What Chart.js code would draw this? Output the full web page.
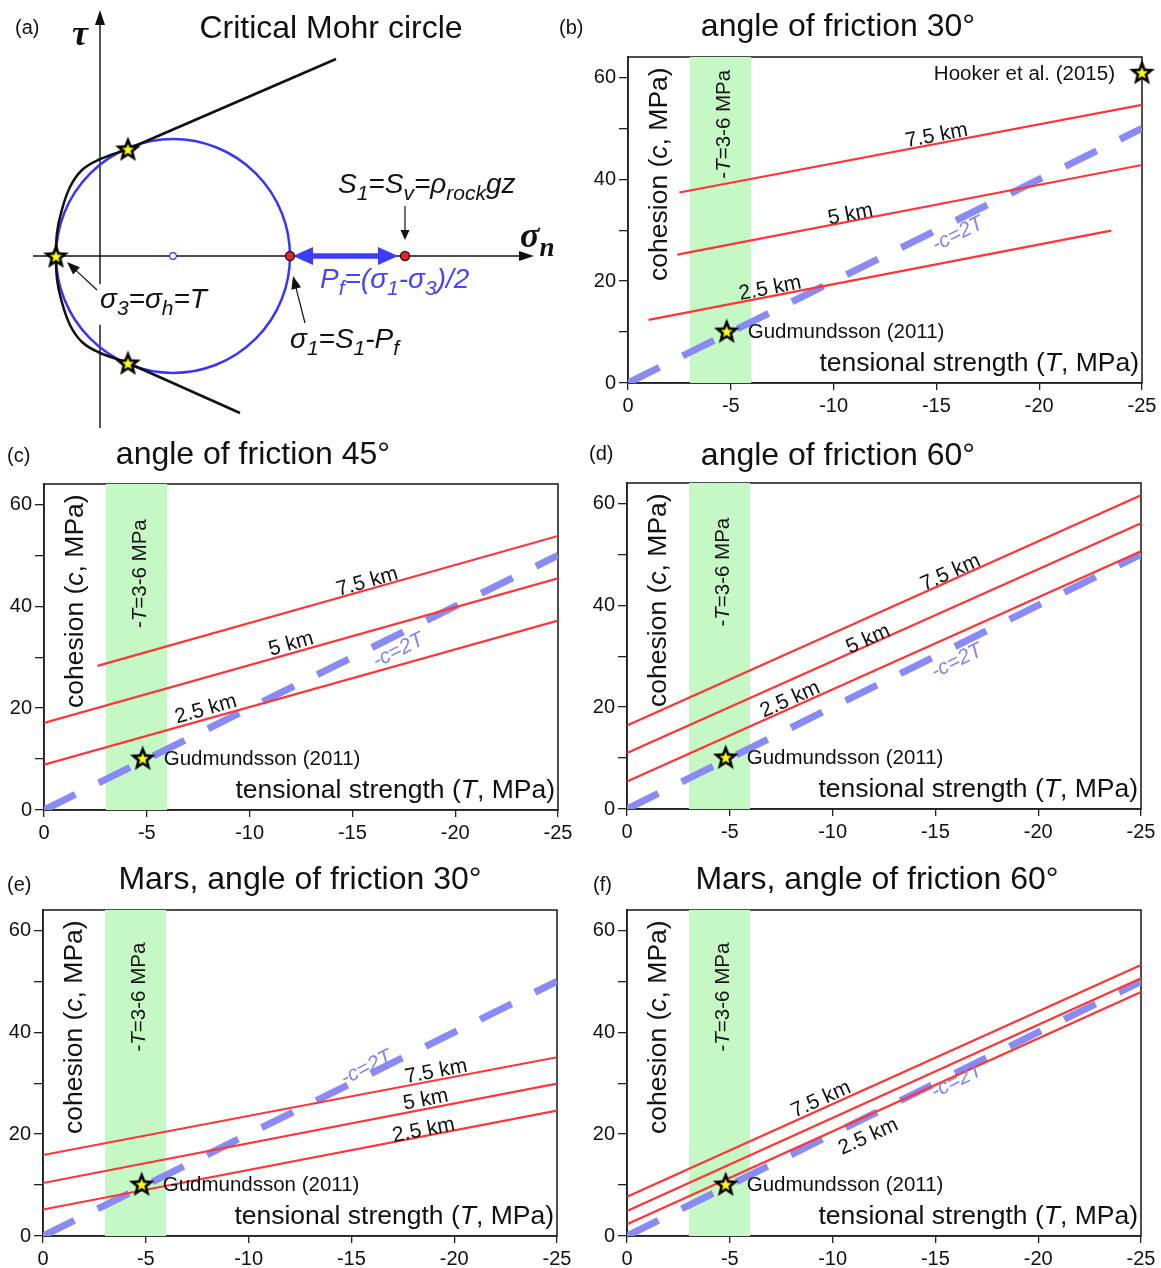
<!DOCTYPE html>
<html><head><meta charset="utf-8">
<script src="https://cdn.jsdelivr.net/npm/chart.js@4.4.1/dist/chart.umd.min.js"></script>
<style>
html,body{margin:0;padding:0;background:#fff;}
#wrap{position:relative;width:1161px;height:1268px;overflow:hidden;background:#fff;}
canvas{position:absolute;}
</style></head><body><div id="wrap"></div>
<script>
// ================= DATA =================
// shared axes / ticks
const xTicks = [0, -5, -10, -15, -20, -25];
const xTickLabels = ['0', '-5', '-10', '-15', '-20', '-25'];
const yTicks = [0, 10, 20, 30, 40, 50, 60];
const yTickLabels = ['0', '', '20', '', '40', '', '60'];
const xRange = [-25, 0];
const yRange = [0, 64];
const depthNames = ['2.5 km', '5 km', '7.5 km'];
const bandT = [-3, -6];                 // -T = 3-6 MPa
const cLineT = [0, -25];                // -c = 2T
const cLineC = [0, 50];
const gudmundsson = [-4.8, 10.2];
const hooker = [-25, 61];

// (b) angle of friction 30°
const b_T25 = [-1.0, -23.5], b_C25 = [12.4, 29.9];
const b_T50 = [-2.4, -25],   b_C50 = [25.2, 42.8];
const b_T75 = [-2.5, -25],   b_C75 = [37.4, 54.6];
// (c) angle of friction 45°
const c_T25 = [0, -25],    c_C25 = [8.9, 37.2];
const c_T50 = [0, -25],    c_C50 = [17.1, 45.5];
const c_T75 = [-2.6, -25], c_C75 = [28.3, 53.8];
// (d) angle of friction 60°
const d_T = [0, -25];
const d_C25 = [5.4, 50.6], d_C50 = [11.0, 56.1], d_C75 = [16.4, 61.6];
// (e) Mars, angle of friction 30°
const e_T = [0, -25];
const e_C25 = [5.2, 24.6], e_C50 = [10.4, 29.9], e_C75 = [15.9, 35.1];
// (f) Mars, angle of friction 60°
const f_T = [0, -25];
const f_C25 = [2.3, 47.9], f_C50 = [4.9, 50.6], f_C75 = [7.7, 53.2];

// (a) Critical Mohr circle (schematic units)
const mohrCenter = [7.3, 0];
const mohrRadius = 11.7;
const sigma1 = 19.0, sigma3 = -4.4, S1 = 30.5;
const coulombUpperX = [2.8, 23.6], coulombUpperY = [10.7, 19.7];
const coulombLowerX = [2.8, 14.0], coulombLowerY = [-10.7, -15.7];
const griffithX = [2.8, -0.2, -1.8, -3.0, -3.9, -4.3, -4.4, -4.3, -3.9, -3.0, -1.8, -0.2, 2.8];
const griffithY = [10.7, 9.6, 8.6, 6.9, 4.3, 2.3, 0, -2.3, -4.3, -6.9, -8.6, -9.6, -10.7];
const mohrStarX = [2.8, -4.4, 2.8], mohrStarY = [10.7, 0, -10.7];
const tauAxisY = [-17.2, 24.6], sigmaAxisX = [-6.7, 43.4];
const pfArrowX = [19.3, 29.8];

// ================= STYLE =================
const FAM = "'Liberation Sans', Arial, Helvetica, sans-serif";
const SERIF = "'Liberation Serif', 'DejaVu Serif', serif";
const TXT = '#111';
const RED = '#ff3535';
const DASH = 'rgba(138,138,244,1)';
const DASH_TXT = '#8585ee';
const BAND = '#c6f8c6';
const BLUE = '#3737f2';
const BOX_W = 514, BOX_H = 326;
Chart.defaults.font.family = FAM;

function fnt(s, size) {
  const z = s.sub ? size * 0.75 : size;
  return (s.it ? 'italic ' : '') + (s.b ? 'bold ' : '') + z.toFixed(1) + 'px ' + (s.fam || FAM);
}
function drawRich(ctx, segs, x, y, o) {
  const size = o.size;
  ctx.save();
  ctx.translate(x, y);
  if (o.rot) ctx.rotate(o.rot);
  let w = 0;
  for (const s of segs) { ctx.font = fnt(s, size); w += ctx.measureText(s.t).width; }
  let x0 = o.align === 'center' ? -w / 2 : (o.align === 'right' ? -w : 0);
  const yb = o.baseline === 'middle' ? size * 0.36 : 0;
  if (o.bg) { ctx.fillStyle = o.bg; ctx.fillRect(x0 - 4, yb - size * 0.85, w + 8, size * 1.45); }
  ctx.textAlign = 'left'; ctx.textBaseline = 'alphabetic';
  for (const s of segs) {
    ctx.font = fnt(s, size);
    ctx.fillStyle = s.color || o.color || TXT;
    ctx.fillText(s.t, x0, yb + (s.sub ? size * 0.25 : 0));
    x0 += ctx.measureText(s.t).width;
  }
  ctx.restore();
}
function arrowHead(ctx, x1, y1, x2, y2, L, W) {
  const a = Math.atan2(y2 - y1, x2 - x1), c = Math.cos(a), s = Math.sin(a);
  ctx.beginPath();
  ctx.moveTo(x2, y2);
  ctx.lineTo(x2 - L * c + W / 2 * s, y2 - L * s - W / 2 * c);
  ctx.lineTo(x2 - L * c - W / 2 * s, y2 - L * s + W / 2 * c);
  ctx.closePath(); ctx.fill();
}
function arrow(ctx, x1, y1, x2, y2, o) {
  const a = Math.atan2(y2 - y1, x2 - x1);
  ctx.save();
  ctx.strokeStyle = ctx.fillStyle = o.color; ctx.lineWidth = o.lw;
  const sx = o.both ? x1 + o.head * 0.8 * Math.cos(a) : x1, sy = o.both ? y1 + o.head * 0.8 * Math.sin(a) : y1;
  ctx.beginPath(); ctx.moveTo(sx, sy);
  ctx.lineTo(x2 - o.head * 0.8 * Math.cos(a), y2 - o.head * 0.8 * Math.sin(a)); ctx.stroke();
  arrowHead(ctx, x1, y1, x2, y2, o.head, o.hw);
  if (o.both) arrowHead(ctx, x2, y2, x1, y1, o.head, o.hw);
  ctx.restore();
}
function makeStar(R) {
  const c = document.createElement('canvas');
  const s = Math.ceil(2 * R + 4); c.width = c.height = s;
  const g = c.getContext('2d');
  g.translate(s / 2, s / 2 + 1);
  const path = (Ro, Ri) => {
    g.beginPath();
    for (let k = 0; k < 10; k++) {
      const a = -Math.PI / 2 + k * Math.PI / 5, r = k % 2 ? Ri : Ro;
      g.lineTo(r * Math.cos(a), r * Math.sin(a));
    }
    g.closePath();
  };
  path(R, R * 0.43); g.fillStyle = '#000'; g.fill();
  path(R * 0.47, R * 0.2); g.fillStyle = '#ffff10'; g.fill();
  return c;
}
const STAR = makeStar(13.5);

function mkCanvas(cell) {
  const c = document.createElement('canvas');
  c.width = cell[2]; c.height = cell[3];
  c.style.left = cell[0] + 'px'; c.style.top = cell[1] + 'px';
  c.style.width = cell[2] + 'px'; c.style.height = cell[3] + 'px';
  document.getElementById('wrap').appendChild(c);
  return c;
}
const pts = (xs, ys) => xs.map((v, i) => ({ x: v, y: ys[i] }));

// ================= PANELS b-f =================
const panels = [
  { letter: '(b)', title: 'angle of friction 30°', cell: [557, 0, 604, 428], box: [628, 57],
    letterPos: [559, 27], titlePos: [838, 24], bandTextY: 50.8, hooker: true,
    lines: [{ T: b_T25, C: b_C25 }, { T: b_T50, C: b_C50 }, { T: b_T75, C: b_C75 }],
    labels: [{ line: 2, x: -15.0, y: 48.9 }, { line: 1, x: -10.8, y: 33.4 }, { line: 0, x: -6.9, y: 18.9 }, { line: 'c', x: -16.0, y: 29.5 }] },
  { letter: '(c)', title: 'angle of friction 45°', cell: [0, 428, 580, 422], box: [44, 484],
    letterPos: [7, 455], titlePos: [253, 452], bandTextY: 46.4,
    lines: [{ T: c_T25, C: c_C25 }, { T: c_T50, C: c_C50 }, { T: c_T75, C: c_C75 }],
    labels: [{ line: 2, x: -15.7, y: 45.1 }, { line: 1, x: -12.0, y: 32.9 }, { line: 0, x: -7.85, y: 20.1 }, { line: 'c', x: -17.2, y: 31.6 }] },
  { letter: '(d)', title: 'angle of friction 60°', cell: [580, 428, 581, 422], box: [627, 483],
    letterPos: [589, 453], titlePos: [838, 453], bandTextY: 46.5,
    lines: [{ T: d_T, C: d_C25 }, { T: d_T, C: d_C50 }, { T: d_T, C: d_C75 }],
    labels: [{ line: 2, x: -15.7, y: 46.7 }, { line: 1, x: -11.7, y: 33.6 }, { line: 0, x: -7.9, y: 21.8 }, { line: 'c', x: -16.0, y: 29.3 }] },
  { letter: '(e)', title: 'Mars, angle of friction 30°', cell: [0, 850, 580, 418], box: [43, 910],
    letterPos: [7, 884], titlePos: [300, 877], bandTextY: 46.9,
    lines: [{ T: e_T, C: e_C25 }, { T: e_T, C: e_C50 }, { T: e_T, C: e_C75 }],
    labels: [{ line: 2, x: -19.1, y: 32.6 }, { line: 1, x: -18.6, y: 27.1 }, { line: 0, x: -18.5, y: 21.1 }, { line: 'c', x: -15.7, y: 33.3 }] },
  { letter: '(f)', title: 'Mars, angle of friction 60°', cell: [580, 850, 581, 418], box: [627, 910],
    letterPos: [593, 884], titlePos: [877, 877], bandTextY: 46.9,
    lines: [{ T: f_T, C: f_C25 }, { T: f_T, C: f_C50 }, { T: f_T, C: f_C75 }],
    labels: [{ line: 2, x: -9.4, y: 27.1 }, { line: 0, x: -11.7, y: 19.8 }, { line: 'c', x: -16.0, y: 30.7 }] }
];

const Y_TITLE = [{ t: 'cohesion (' }, { t: 'c', it: true }, { t: ', MPa)' }];
const X_TITLE = [{ t: 'tensional strength (' }, { t: 'T', it: true }, { t: ', MPa)' }];
const BAND_TITLE = [{ t: '-' }, { t: 'T', it: true }, { t: '=3-6 MPa' }];

function panelPlugin(P) {
  return {
    id: 'annot',
    beforeDatasetsDraw(chart) {
      const { ctx, chartArea: ca } = chart;
      ctx.save();
      ctx.strokeStyle = '#222'; ctx.lineWidth = 1.6;
      ctx.strokeRect(ca.left, ca.top, ca.right - ca.left, ca.bottom - ca.top);
      ctx.restore();
    },
    afterDatasetsDraw(chart) {
      const { ctx, chartArea: ca } = chart;
      const sx = chart.scales.x, sy = chart.scales.y;
      const X = v => sx.getPixelForValue(v), Y = v => sy.getPixelForValue(v);
      drawRich(ctx, [{ t: P.letter }], P.letterPos[0] - P.cell[0], P.letterPos[1] - P.cell[1], { size: 20, baseline: 'middle' });
      drawRich(ctx, [{ t: P.title }], P.titlePos[0] - P.cell[0], P.titlePos[1] - P.cell[1], { size: 32, align: 'center', baseline: 'middle' });
      drawRich(ctx, Y_TITLE, ca.left + 29, Y(41), { size: 26.5, align: 'center', baseline: 'middle', rot: -Math.PI / 2 });
      drawRich(ctx, X_TITLE, ca.right - 3, ca.bottom - 12, { size: 26.5, align: 'right' });
      drawRich(ctx, BAND_TITLE, X((bandT[0] + bandT[1]) / 2 - 0.1), Y(P.bandTextY), { size: 20.5, align: 'center', baseline: 'middle', rot: -Math.PI / 2 });
      P.labels.forEach(lb => {
        const L = lb.line === 'c' ? { T: cLineT, C: cLineC } : P.lines[lb.line];
        const ang = Math.atan2(Y(L.C[1]) - Y(L.C[0]), X(L.T[1]) - X(L.T[0]));
        const segs = lb.line === 'c' ? [{ t: '-c=2T', it: true }] : [{ t: depthNames[lb.line] }];
        drawRich(ctx, segs, X(lb.x), Y(lb.y), { size: 21, align: 'center', baseline: 'middle', rot: ang, color: lb.line === 'c' ? DASH_TXT : TXT });
      });
      drawRich(ctx, [{ t: 'Gudmundsson (2011)' }], X(gudmundsson[0]) + 21, Y(gudmundsson[1]), { size: 20.5, baseline: 'middle' });
      if (P.hooker) drawRich(ctx, [{ t: 'Hooker et al. (2015)' }], X(hooker[0]) - 27, Y(hooker[1]), { size: 20.5, align: 'right', baseline: 'middle' });
    }
  };
}

function buildPanel(P) {
  const canvas = mkCanvas(P.cell);
  const yW = P.box[0] - P.cell[0];
  const padTop = P.box[1] - P.cell[1];
  const padRight = P.cell[2] - yW - BOX_W;
  const xH = P.cell[3] - padTop - BOX_H;
  const ds = [];
  ds.push({ data: pts(bandT, [yRange[1], yRange[1]]), showLine: true, fill: 'origin', backgroundColor: BAND,
            borderColor: 'rgba(0,0,0,0)', borderWidth: 0, pointRadius: 0, order: 5 });
  ds.push({ data: pts(cLineT, cLineC), showLine: true, borderColor: DASH, borderWidth: 7, borderDash: [35, 26],
            borderCapStyle: 'butt', pointRadius: 0, order: 4, fill: false });
  P.lines.forEach(L => ds.push({ data: pts(L.T, L.C), showLine: true, borderColor: RED, borderWidth: 2.2,
            pointRadius: 0, order: 3, fill: false }));
  ds.push({ data: pts([gudmundsson[0]], [gudmundsson[1]]), pointStyle: STAR, pointRadius: 13, order: 1, clip: false });
  if (P.hooker) ds.push({ data: pts([hooker[0]], [hooker[1]]), pointStyle: STAR, pointRadius: 13, order: 1, clip: false });
  new Chart(canvas, {
    type: 'scatter',
    data: { datasets: ds },
    options: {
      responsive: false, animation: false, events: [], devicePixelRatio: 1,
      layout: { autoPadding: false, padding: { left: 0, top: padTop, right: padRight, bottom: 0 } },
      plugins: { legend: { display: false }, tooltip: { enabled: false }, title: { display: false } },
      scales: {
        x: {
          type: 'linear', min: xRange[0], max: xRange[1], reverse: true,
          afterFit: s => { s.height = xH; },
          afterBuildTicks: s => { s.ticks = [...xTicks].sort((a, b) => a - b).map(v => ({ value: v })); },
          ticks: { autoSkip: false, maxRotation: 0, padding: 4, color: TXT, font: { size: 20, family: FAM },
                   callback: v => xTickLabels[xTicks.indexOf(Math.round(v))] },
          grid: { drawOnChartArea: false, drawTicks: true, tickLength: 7, color: '#222', lineWidth: 1.3 },
          border: { display: true, color: '#222', width: 1.6 }
        },
        y: {
          type: 'linear', min: yRange[0], max: yRange[1],
          afterFit: s => { s.width = yW; },
          afterBuildTicks: s => { s.ticks = yTicks.map(v => ({ value: v })); },
          ticks: { autoSkip: false, padding: 3, color: TXT, font: { size: 20, family: FAM },
                   callback: v => yTickLabels[yTicks.indexOf(Math.round(v))] },
          grid: { drawOnChartArea: false, drawTicks: true, tickLength: 9, color: '#222', lineWidth: 1.3 },
          border: { display: true, color: '#222', width: 1.6 }
        }
      }
    },
    plugins: [panelPlugin(P)]
  });
}
panels.forEach(buildPanel);

// ================= PANEL a =================
(function buildMohr() {
  const cell = [0, 0, 557, 428];
  const canvas = mkCanvas(cell);
  // 10 px per unit, origin at pixel (100, 256)
  const xr = [-10, (cell[2] - 100) / 10], yr = [(256 - cell[3]) / 10, 25.6];
  const circleR = ctx => {
    const s = ctx.chart.scales.x;
    return Math.abs(s.getPixelForValue(mohrCenter[0] + mohrRadius) - s.getPixelForValue(mohrCenter[0]));
  };
  const ds = [
    { data: pts([mohrCenter[0]], [mohrCenter[1]]), pointRadius: circleR, pointBorderColor: BLUE,
      pointBackgroundColor: 'rgba(0,0,0,0)', pointBorderWidth: 2.5, clip: false, order: 6 },
    { data: pts([mohrCenter[0]], [mohrCenter[1]]), pointRadius: 3.3, pointBorderColor: BLUE,
      pointBackgroundColor: '#fff', pointBorderWidth: 1.2, clip: false, order: 5 },
    { data: pts(griffithX, griffithY), showLine: true, tension: 0.4, borderColor: '#111', borderWidth: 2.5,
      pointRadius: 0, clip: false, order: 4 },
    { data: pts(coulombUpperX, coulombUpperY), showLine: true, borderColor: '#111', borderWidth: 2.5, pointRadius: 0, clip: false, order: 4 },
    { data: pts(coulombLowerX, coulombLowerY), showLine: true, borderColor: '#111', borderWidth: 2.5, pointRadius: 0, clip: false, order: 4 },
    { data: pts([sigma1, S1], [0, 0]), pointRadius: 4.5, pointBackgroundColor: '#ee2020', pointBorderColor: '#222',
      pointBorderWidth: 1.5, clip: false, order: 2 },
    { data: pts(mohrStarX, mohrStarY), pointStyle: STAR, pointRadius: 13, clip: false, order: 1 }
  ];
  const plug = {
    id: 'mohr',
    beforeDatasetsDraw(chart) {
      const ctx = chart.ctx, X = v => chart.scales.x.getPixelForValue(v), Y = v => chart.scales.y.getPixelForValue(v);
      arrow(ctx, X(0), Y(tauAxisY[0]), X(0), Y(tauAxisY[1]), { color: '#111', lw: 1.4, head: 15, hw: 10 });
      arrow(ctx, X(sigmaAxisX[0]), Y(0), X(sigmaAxisX[1]), Y(0), { color: '#111', lw: 1.4, head: 15, hw: 10 });
      arrow(ctx, X(pfArrowX[0]), Y(0), X(pfArrowX[1]), Y(0), { color: '#3d3dff', lw: 5.5, head: 20, hw: 18, both: true });
    },
    afterDatasetsDraw(chart) {
      const ctx = chart.ctx, X = v => chart.scales.x.getPixelForValue(v), Y = v => chart.scales.y.getPixelForValue(v);
      drawRich(ctx, [{ t: '(a)' }], 15, 27, { size: 20, baseline: 'middle' });
      drawRich(ctx, [{ t: 'Critical Mohr circle' }], 331, 26, { size: 32, align: 'center', baseline: 'middle' });
      drawRich(ctx, [{ t: 'τ', it: true, b: true, fam: SERIF }], X(-2.8), Y(21.1), { size: 36 });
      drawRich(ctx, [{ t: 'σ', it: true, b: true, fam: SERIF }, { t: 'n', it: true, b: true, fam: SERIF, sub: true }], X(42.0), Y(0.9), { size: 36 });
      // pointer arrows
      arrow(ctx, X(S1), Y(5.0), X(S1), Y(1.6), { color: '#111', lw: 1.2, head: 10, hw: 9 });
      drawRich(ctx, [{ t: 'S', it: true }, { t: '1', it: true, sub: true }, { t: '=S', it: true }, { t: 'v', it: true, sub: true },
        { t: '=ρ', it: true }, { t: 'rock', it: true, sub: true }, { t: 'gz', it: true }], X(23.8), Y(6.3), { size: 28 });
      drawRich(ctx, [{ t: 'P', it: true }, { t: 'f', it: true, sub: true }, { t: '=(σ', it: true }, { t: '1', it: true, sub: true },
        { t: '-σ', it: true }, { t: '3', it: true, sub: true }, { t: ')/2', it: true }], X(22.0), Y(-3.2), { size: 28, color: '#4646f0' });
      drawRich(ctx, [{ t: 'σ', it: true }, { t: '3', it: true, sub: true }, { t: '=σ', it: true }, { t: 'h', it: true, sub: true },
        { t: '=T', it: true }], X(0.0), Y(-5.2), { size: 28, bg: '#fff' });
      arrow(ctx, X(-0.3), Y(-3.4), X(-3.3), Y(-0.6), { color: '#111', lw: 1.2, head: 13, hw: 10 });
      drawRich(ctx, [{ t: 'σ', it: true }, { t: '1', it: true, sub: true }, { t: '=S', it: true }, { t: '1', it: true, sub: true },
        { t: '-P', it: true }, { t: 'f', it: true, sub: true }], X(19.0), Y(-9.2), { size: 28 });
      arrow(ctx, X(20.5), Y(-6.7), X(19.3), Y(-2.0), { color: '#111', lw: 1.2, head: 13, hw: 10 });
    }
  };
  new Chart(canvas, {
    type: 'scatter',
    data: { datasets: ds },
    options: {
      responsive: false, animation: false, events: [], devicePixelRatio: 1,
      layout: { autoPadding: false, padding: 0 },
      plugins: { legend: { display: false }, tooltip: { enabled: false } },
      scales: {
        x: { type: 'linear', min: xr[0], max: xr[1], display: false },
        y: { type: 'linear', min: yr[0], max: yr[1], display: false }
      }
    },
    plugins: [plug]
  });
})();
</script></body></html>
